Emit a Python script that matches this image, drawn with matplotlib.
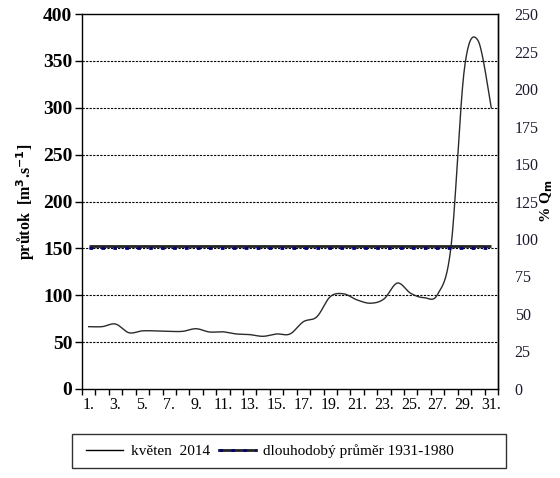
import numpy as np
import matplotlib.pyplot as plt
from matplotlib.patches import Rectangle
from matplotlib.lines import Line2D

plt.rcParams['font.family'] = ['Liberation Serif', 'DejaVu Serif']

# ---------------- data
days = np.arange(1, 32)
flow_may2014 = [66.5, 66.5, 69.3, 60.0, 62.0, 62.0, 61.5, 61.5, 64.3, 60.8,
                61.0, 58.7, 58.0, 56.2, 58.7, 58.7, 71.8, 77.0, 98.5, 101.5,
                95.0, 91.5, 96.0, 113.0, 102.0, 97.4, 101.0, 152.0, 342.0, 372.0,
                300.0]
longterm_mean = 151.5
xtick_days = list(range(1, 32, 2))
xtick_labels = [f'{d}.' for d in xtick_days]
left_ticks = list(range(0, 401, 50))
right_ticks = list(range(0, 251, 25))


def smooth(x, y, n=20):
    # bezier smoothing like a spreadsheet "smoothed line"
    x = np.asarray(x, float)
    y = np.asarray(y, float)
    px = np.concatenate([[x[0]], x, [x[-1]]])
    py = np.concatenate([[y[0]], y, [y[-1]]])
    xs, ys = [], []
    t = np.linspace(0, 1, n, endpoint=False)
    for i in range(1, len(px) - 2):
        p0 = np.array([px[i], py[i]])
        p3 = np.array([px[i + 1], py[i + 1]])
        p1 = p0 + (np.array([px[i + 1], py[i + 1]]) - np.array([px[i - 1], py[i - 1]])) / 6
        p2 = p3 - (np.array([px[i + 2], py[i + 2]]) - np.array([px[i], py[i]])) / 6
        b = ((1 - t) ** 3)[:, None] * p0 + (3 * (1 - t) ** 2 * t)[:, None] * p1 \
            + (3 * (1 - t) * t ** 2)[:, None] * p2 + (t ** 3)[:, None] * p3
        xs.append(b[:, 0])
        ys.append(b[:, 1])
    xs.append([x[-1]])
    ys.append([y[-1]])
    return np.concatenate(xs), np.concatenate(ys)


fig = plt.figure(figsize=(5.6, 4.78), dpi=100)
ax = fig.add_axes([0.1464, 0.1862, 0.7429, 0.7845])

# ---------------- lines
sx, sy = smooth(days, flow_may2014)
ax.plot(sx, sy, color='#2b2b2b', lw=1.0, zorder=3)
ax.plot([days[0], days[-1]], [longterm_mean + 0.6] * 2, color='#222222', lw=2.0,
        solid_capstyle='butt', zorder=4)
ax.plot([days[0], days[-1]], [longterm_mean - 0.6] * 2, color='#000080', lw=2.0,
        linestyle=(0, (1.3, 3.0)), zorder=5)

# ---------------- axes
ax.set_xlim(0.5, 31.5)
ax.set_ylim(0, 400)
ax.set_yticks(left_ticks)
ax.set_yticklabels([str(v) for v in left_ticks], fontsize=14, fontweight='bold')
ax.set_xticks(np.arange(0.5, 32, 1), minor=True)
ax.set_xticks(xtick_days)
ax.set_xticklabels(xtick_labels, fontsize=11.5)
ax.tick_params(axis='x', which='major', length=0, pad=6)
ax.tick_params(axis='x', which='minor', length=4, direction='out', width=1)
ax.tick_params(axis='y', length=5, width=1, direction='out', pad=2)
for s in ax.spines.values():
    s.set_linewidth(1.0)
    s.set_color('#333333')
ax.set_ylabel('průtok  [m$^\\mathbf{3}$.s$^\\mathbf{-1}$]', fontsize=11.5,
              fontweight='bold', labelpad=4)

for v in left_ticks[1:-1]:
    ax.axhline(v, color='black', lw=0.8, linestyle=(0, (2, 1.2)), zorder=1)

ax2 = ax.twinx()
ax2.set_ylim(0, 250)
ax2.set_yticks(right_ticks)
ax2.set_yticklabels([str(v) for v in right_ticks], fontsize=11.5, color='#1a1a2e')
ax2.tick_params(axis='y', length=0, pad=12)
ax2.spines['right'].set_linewidth(1.0)
ax2.set_ylabel('% Q$_\\mathbf{m}$', fontsize=11, fontweight='bold', labelpad=0)

# ---------------- legend
fig.patches.append(Rectangle((0.129, 0.021), 0.775, 0.071, transform=fig.transFigure,
                             fill=False, edgecolor='#333333', lw=1.0))
h1 = Line2D([], [], color='black', lw=1.0)
h2a = Line2D([], [], color='#222222', lw=2.0)
h2b = Line2D([], [], color='#000080', lw=2.0, linestyle=(0, (1.3, 3.0)))
fig.legend([h1, (h2a, h2b)], ['květen  2014', 'dlouhodobý průměr 1931-1980'],
           loc='center left', bbox_to_anchor=(0.135, 0.056), ncol=2, frameon=False,
           fontsize=11, handlelength=2.4, handletextpad=0.5, columnspacing=0.6,
           borderpad=0.2)

fig.savefig('out.png', dpi=100)
